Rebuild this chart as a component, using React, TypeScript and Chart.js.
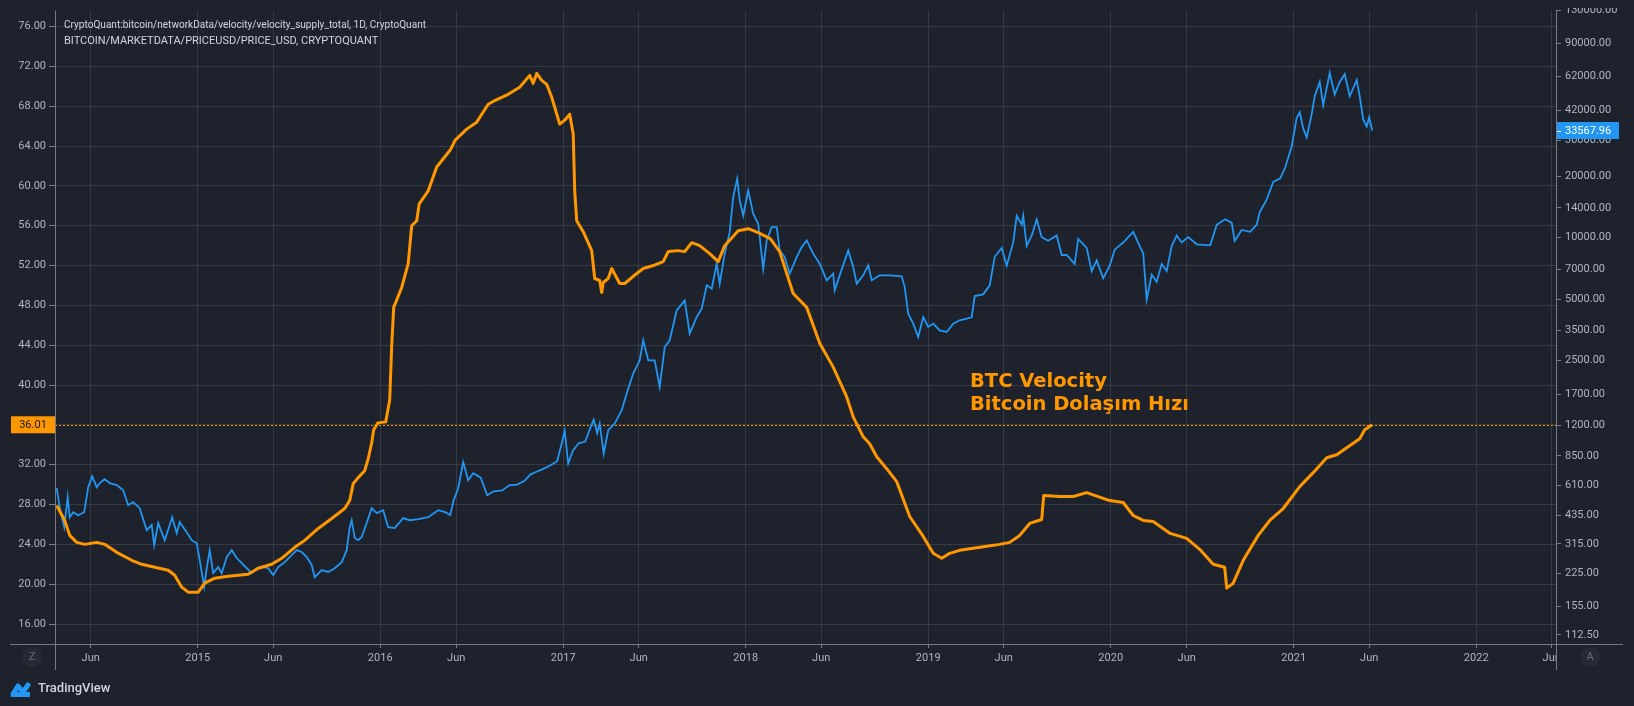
import React, { useEffect, useRef } from 'react';
import { Chart, registerables } from 'chart.js';

Chart.register(...registerables);

// ---------- DATA ----------
const velocityDates = [
  '2014-03-25','2014-04-10','2014-04-20','2014-05-04','2014-05-20','2014-06-13','2014-06-29','2014-07-23','2014-08-22','2014-09-11',
  '2014-10-07','2014-11-03','2014-11-16','2014-11-30','2014-12-13','2015-01-02','2015-01-15','2015-02-04','2015-03-03','2015-04-12',
  '2015-05-02','2015-05-29','2015-06-18','2015-07-14','2015-08-03','2015-08-30','2015-09-26','2015-10-22','2015-11-01','2015-11-08',
  '2015-11-18','2015-12-01','2015-12-08','2015-12-15','2015-12-19','2015-12-27','2016-01-12','2016-01-20','2016-01-24','2016-01-28',
  '2016-02-13','2016-02-26','2016-03-04','2016-03-14','2016-03-19','2016-04-06','2016-04-23','2016-05-20','2016-05-30','2016-06-22',
  '2016-07-12','2016-08-04','2016-08-18','2016-09-13','2016-10-06','2016-10-26','2016-11-02','2016-11-09','2016-11-19','2016-11-29',
  '2016-12-09','2016-12-25','2017-01-04','2017-01-14','2017-01-21','2017-01-24','2017-01-28','2017-02-10','2017-02-27','2017-03-05',
  '2017-03-15','2017-03-19','2017-03-22','2017-04-01','2017-04-08','2017-04-24','2017-05-04','2017-05-28','2017-06-10','2017-06-30',
  '2017-07-20','2017-07-30','2017-08-19','2017-09-01','2017-09-15','2017-10-01','2017-10-21','2017-11-07','2017-11-20','2017-12-17',
  '2018-01-06','2018-01-26','2018-02-19','2018-03-10','2018-03-24','2018-04-06','2018-05-03','2018-05-29','2018-06-25','2018-07-22',
  '2018-08-04','2018-08-24','2018-09-06','2018-09-20','2018-10-10','2018-10-30','2018-11-25','2018-12-22','2019-01-11','2019-01-28',
  '2019-02-13','2019-03-05','2019-04-01','2019-04-28','2019-05-24','2019-06-13','2019-07-03','2019-07-23','2019-08-16','2019-08-20',
  '2019-09-21','2019-10-18','2019-11-14','2019-12-30','2020-01-26','2020-02-15','2020-03-06','2020-03-26','2020-04-29','2020-06-01',
  '2020-06-27','2020-07-24','2020-08-16','2020-08-20','2020-09-02','2020-09-22','2020-10-22','2020-11-14','2020-12-11','2021-01-13',
  '2021-02-09','2021-03-08','2021-03-28','2021-04-17','2021-05-13','2021-05-23','2021-06-07'
];
const velocityValues = [
  27.9,26.4,24.9,24.2,24.0,24.2,24.0,23.2,22.4,22.0,
  21.7,21.4,20.9,19.7,19.2,19.2,20.1,20.6,20.8,21.0,
  21.6,22.0,22.6,23.7,24.4,25.6,26.6,27.6,28.4,30.1,
  30.7,31.4,32.6,34.2,35.5,36.2,36.3,38.5,44.0,47.8,
  49.8,52.2,56.0,56.5,58.2,59.5,61.9,63.6,64.6,65.7,
  66.4,68.2,68.6,69.2,69.9,71.1,70.3,71.3,70.6,70.2,
  68.9,66.2,66.6,67.2,65.2,59.5,56.5,55.4,53.5,50.7,
  50.5,49.3,50.3,50.7,51.7,50.2,50.2,51.2,51.7,52.0,
  52.4,53.4,53.5,53.4,54.3,54.0,53.2,52.4,54.0,55.5,
  55.7,55.3,54.7,53.4,51.2,49.2,47.8,44.2,41.8,38.8,
  36.8,34.8,34.1,32.8,31.6,30.3,26.8,24.8,23.1,22.6,
  23.1,23.4,23.6,23.8,24.0,24.2,24.9,26.1,26.5,28.9,
  28.8,28.8,29.2,28.4,28.2,26.9,26.4,26.3,25.1,24.6,
  23.5,22.0,21.7,19.6,20.1,22.4,24.9,26.4,27.6,29.8,
  31.2,32.7,33.0,33.7,34.6,35.5,36.01
];

const priceDates = [
  '2014-03-25','2014-03-31','2014-04-09','2014-04-16','2014-04-20','2014-04-27','2014-05-07','2014-05-19','2014-05-27','2014-06-04',
  '2014-06-13','2014-06-19','2014-06-29','2014-07-09','2014-07-23','2014-08-05','2014-08-15','2014-08-25','2014-09-07','2014-09-21',
  '2014-10-01','2014-10-06','2014-10-14','2014-10-27','2014-11-11','2014-11-20','2014-11-26','2014-12-10','2014-12-20','2014-12-30',
  '2015-01-05','2015-01-14','2015-01-19','2015-01-25','2015-02-01','2015-02-11','2015-02-18','2015-02-28','2015-03-10','2015-03-20',
  '2015-03-30','2015-04-09','2015-04-19','2015-04-29','2015-05-12','2015-05-22','2015-06-01','2015-06-11','2015-06-24','2015-07-08',
  '2015-07-18','2015-07-28','2015-08-07','2015-08-17','2015-08-23','2015-09-06','2015-09-19','2015-10-02','2015-10-16','2015-10-26',
  '2015-11-01','2015-11-05','2015-11-11','2015-11-18','2015-11-25','2015-12-05','2015-12-15','2015-12-25','2016-01-07','2016-01-17',
  '2016-01-30','2016-02-16','2016-02-29','2016-03-17','2016-04-06','2016-04-26','2016-05-10','2016-05-20','2016-05-27','2016-06-05',
  '2016-06-15','2016-06-25','2016-07-05','2016-07-20','2016-08-02','2016-08-15','2016-09-01','2016-09-15','2016-10-01','2016-10-15',
  '2016-10-28','2016-11-05','2016-11-20','2016-12-05','2016-12-20','2016-12-28','2017-01-04','2017-01-11','2017-01-20','2017-02-01',
  '2017-02-14','2017-02-25','2017-03-03','2017-03-10','2017-03-15','2017-03-23','2017-04-01','2017-04-14','2017-04-28','2017-05-08',
  '2017-05-21','2017-06-03','2017-06-10','2017-06-20','2017-07-03','2017-07-13','2017-07-23','2017-08-02','2017-08-16','2017-09-01',
  '2017-09-11','2017-09-25','2017-10-05','2017-10-15','2017-10-25','2017-11-04','2017-11-10','2017-11-20','2017-11-30','2017-12-07',
  '2017-12-15','2017-12-20','2017-12-27','2018-01-06','2018-01-16','2018-01-26','2018-02-05','2018-02-12','2018-02-22','2018-03-04',
  '2018-03-10','2018-03-20','2018-03-30','2018-04-13','2018-04-23','2018-05-03','2018-05-16','2018-05-29','2018-06-12','2018-06-25',
  '2018-06-28','2018-07-08','2018-07-25','2018-08-04','2018-08-11','2018-08-24','2018-09-03','2018-09-10','2018-09-26','2018-10-16',
  '2018-11-09','2018-11-15','2018-11-22','2018-12-02','2018-12-12','2018-12-22','2019-01-01','2019-01-11','2019-01-24','2019-02-07',
  '2019-02-20','2019-03-05','2019-03-29','2019-04-04','2019-04-21','2019-05-04','2019-05-14','2019-05-28','2019-06-07','2019-06-20',
  '2019-06-27','2019-07-07','2019-07-10','2019-07-17','2019-07-27','2019-08-06','2019-08-16','2019-08-29','2019-09-15','2019-09-25',
  '2019-10-05','2019-10-21','2019-10-28','2019-11-14','2019-11-24','2019-12-04','2019-12-17','2019-12-30','2020-01-09','2020-01-26',
  '2020-02-15','2020-02-28','2020-03-06','2020-03-13','2020-03-23','2020-04-02','2020-04-12','2020-04-22','2020-05-02','2020-05-12',
  '2020-05-22','2020-06-04','2020-06-21','2020-07-18','2020-07-31','2020-08-17','2020-08-30','2020-09-05','2020-09-19','2020-10-06',
  '2020-10-19','2020-10-25','2020-11-08','2020-11-21','2020-12-05','2020-12-15','2020-12-28','2021-01-07','2021-01-13','2021-01-20',
  '2021-01-27','2021-02-06','2021-02-12','2021-02-22','2021-03-01','2021-03-14','2021-03-24','2021-04-03','2021-04-13','2021-04-23',
  '2021-05-07','2021-05-13','2021-05-20','2021-05-27','2021-06-01','2021-06-07'
];
const priceValues = [
  590,476,380,533,425,450,435,450,597,676,
  597,625,653,625,611,577,487,504,471,367,
  389,310,398,328,425,355,402,359,328,317,
  262,193,239,293,226,242,226,271,293,268,
  253,239,226,239,242,239,221,242,256,277,
  293,287,271,248,216,234,229,239,256,293,
  380,411,336,328,340,398,471,445,460,380,
  376,421,411,416,425,460,450,435,516,590,
  792,646,699,665,545,570,575,610,615,640,
  690,705,730,760,800,960,1130,780,900,980,
  1000,1180,1280,1100,1225,873,1136,1225,1424,1719,
  2154,2503,3138,2503,2503,1852,2909,3138,4401,4928,
  3383,4082,4487,5837,5623,7455,5950,8349,10650,15810,
  19460,15230,12860,17050,13110,11710,7047,9701,11270,11270,
  8663,8035,6660,8035,8993,9701,8349,7455,6176,6660,
  5515,6535,8663,7177,5950,6535,7316,6176,6535,6535,
  6461,5725,4241,3788,3256,4082,3646,3788,3512,3446,
  3788,3932,4068,5173,5274,5837,8063,8913,7284,9484,
  12810,11580,12810,9095,10260,12290,10060,9656,10260,8226,
  8226,7430,9855,8913,6859,7741,6324,7284,8734,9473,
  10690,9095,8385,4968,6586,6079,7430,6859,9095,10260,
  9473,10060,9282,9170,11580,12310,11820,9656,10910,10690,
  11580,13340,15360,18790,19550,22090,28120,38800,41230,34390,
  31090,40410,49440,58100,44730,64250,50410,58100,63470,49440,
  59290,49440,38060,35130,39000,33567.96
];

const leftTicks = [16, 20, 24, 28, 32, 36, 40, 44, 48, 52, 56, 60, 64, 68, 72, 76];
const rightTicks = [112.5, 155, 225, 315, 435, 610, 850, 1200, 1700, 2500, 3500, 5000, 7000, 10000, 14000, 20000, 30000, 42000, 62000, 90000, 130000];
const timeTickYears = [2014, 2015, 2016, 2017, 2018, 2019, 2020, 2021, 2022];
const headerLines = [
  'CryptoQuant:bitcoin/networkData/velocity/velocity_supply_total, 1D, CryptoQuant',
  'BITCOIN/MARKETDATA/PRICEUSD/PRICE_USD, CRYPTOQUANT'
];
const annotationLines = ['BTC Velocity', 'Bitcoin Dolaşım Hızı'];

// ---------- STYLE ----------
const BG = '#1e222d';
const GRID = '#363a45';
const AXIS = '#787b86';
const TEXT = '#b2b5be';
const ORANGE = '#ff9800';
const BLUE = '#2196f3';
const FONT = 'Roboto, "Liberation Sans", sans-serif';

const toMs = (s: string) => {
  const [y, m, d] = s.split('-').map(Number);
  return Date.UTC(y, m - 1, d);
};

const X_MIN = Date.UTC(2014, 2, 21, 14);
const X_MAX = Date.UTC(2022, 5, 9, 14);

const timeTicks: { value: number; label: string }[] = [];
timeTickYears.forEach((yr) => {
  timeTicks.push({ value: Date.UTC(yr, 0, 1), label: String(yr) });
  timeTicks.push({ value: Date.UTC(yr, 5, 1), label: 'Jun' });
});
const visibleTimeTicks = timeTicks.filter((t) => t.value >= X_MIN && t.value <= X_MAX);

export default function App() {
  const ref = useRef<HTMLCanvasElement | null>(null);

  useEffect(() => {
    document.body.style.margin = '0';
    document.body.style.background = BG;
    const canvas = ref.current;
    if (!canvas) return;

    const velocityData = velocityDates.map((d, i) => ({ x: toMs(d), y: velocityValues[i] }));
    const priceData = priceDates.map((d, i) => ({ x: toMs(d), y: priceValues[i] }));
    const lastV = velocityValues[velocityValues.length - 1];
    const lastP = priceValues[priceValues.length - 1];

    const decor = {
      id: 'decor',
      beforeDraw(chart: any) {
        const c = chart.ctx;
        c.save();
        c.fillStyle = BG;
        c.fillRect(0, 0, chart.width, chart.height);
        c.restore();
      },
      beforeDatasetsDraw(chart: any) {
        const c = chart.ctx;
        const a = chart.chartArea;
        const yv = Math.round(chart.scales.y.getPixelForValue(lastV)) + 0.5;
        c.save();
        c.strokeStyle = ORANGE;
        c.lineWidth = 1;
        c.setLineDash([2, 2]);
        c.beginPath();
        c.moveTo(a.left, yv);
        c.lineTo(a.right, yv);
        c.stroke();
        c.restore();
      },
      afterDraw(chart: any) {
        const c = chart.ctx;
        const a = chart.chartArea;
        c.save();
        c.fillStyle = BG;
        c.fillRect(0, 0, chart.width, 8);
        c.fillRect(a.right + 1, a.bottom + 1, chart.width - a.right, chart.height - a.bottom);

        c.strokeStyle = AXIS;
        c.lineWidth = 1;
        c.beginPath();
        c.moveTo(10, a.bottom + 0.5);
        c.lineTo(1623, a.bottom + 0.5);
        c.moveTo(a.left + 0.5, a.top);
        c.lineTo(a.left + 0.5, 670);
        c.moveTo(a.right + 0.5, a.top);
        c.lineTo(a.right + 0.5, 670);
        c.stroke();

        const yv = chart.scales.y.getPixelForValue(lastV);
        c.fillStyle = ORANGE;
        c.fillRect(11, yv - 8.5, a.left - 11, 17);
        c.fillStyle = '#131722';
        c.font = `11px ${FONT}`;
        c.textAlign = 'center';
        c.textBaseline = 'middle';
        c.fillText(lastV.toFixed(2), 33, yv + 0.5);

        const yp = chart.scales.yR.getPixelForValue(lastP);
        c.fillStyle = BLUE;
        c.fillRect(a.right + 1, yp - 8.5, 62, 17);
        c.fillStyle = '#ffffff';
        c.fillRect(a.right + 1, Math.round(yp), 4, 1);
        c.textAlign = 'left';
        c.fillText(lastP.toFixed(2), a.right + 9, yp + 0.5);

        c.fillStyle = '#d1d4dc';
        c.font = `11px ${FONT}`;
        c.textAlign = 'left';
        c.textBaseline = 'middle';
        c.fillText(headerLines[0], 64, 25, 362);
        c.fillText(headerLines[1], 64, 41);

        c.fillStyle = ORANGE;
        c.font = `bold 19.5px "DejaVu Sans", sans-serif`;
        c.textBaseline = 'alphabetic';
        c.fillText(annotationLines[0], 970, 387);
        c.fillText(annotationLines[1], 970, 410);

        const btn = (x: number, y: number, t: string) => {
          c.fillStyle = '#262a35';
          c.beginPath();
          c.arc(x, y, 10, 0, Math.PI * 2);
          c.fill();
          c.fillStyle = '#6a6d78';
          c.font = `11px ${FONT}`;
          c.textAlign = 'center';
          c.textBaseline = 'middle';
          c.fillText(t, x, y + 0.5);
        };
        btn(32, 657, 'Z');
        btn(1590, 657, 'A');

        c.fillStyle = BLUE;
        c.strokeStyle = BLUE;
        c.lineJoin = 'round';
        c.lineCap = 'round';
        c.lineWidth = 5;
        c.beginPath();
        c.moveTo(13, 694);
        c.lineTo(18, 686);
        c.lineTo(23, 692);
        c.lineTo(28, 685);
        c.stroke();
        c.fillRect(11, 692, 19, 5);
        c.fillStyle = '#d1d4dc';
        c.font = `500 13px ${FONT}`;
        c.textAlign = 'left';
        c.textBaseline = 'middle';
        c.fillText('TradingView', 38, 689);
        c.restore();
      },
    };

    const chart = new Chart(canvas, {
      type: 'line',
      data: {
        datasets: [
          {
            label: 'Velocity',
            data: velocityData,
            yAxisID: 'y',
            borderColor: ORANGE,
            borderWidth: 3,
            pointRadius: 0,
            tension: 0,
            borderJoinStyle: 'round',
          },
          {
            label: 'Price USD',
            data: priceData,
            yAxisID: 'yR',
            borderColor: BLUE,
            borderWidth: 1.8,
            pointRadius: 0,
            tension: 0,
          },
        ],
      },
      options: {
        responsive: false,
        animation: false,
        devicePixelRatio: 1,
        parsing: false as any,
        layout: { padding: { top: 10, left: 0, right: 0, bottom: 0 } },
        plugins: { legend: { display: false }, tooltip: { enabled: false } },
        scales: {
          x: {
            type: 'linear',
            min: X_MIN,
            max: X_MAX,
            afterBuildTicks: (s: any) => {
              s.ticks = visibleTimeTicks.map((t) => ({ value: t.value }));
            },
            afterFit: (s: any) => {
              s.height = 62;
            },
            ticks: {
              autoSkip: false,
              maxRotation: 0,
              padding: 4,
              color: TEXT,
              font: { family: FONT, size: 11 },
              callback: (v: any) => {
                const t = visibleTimeTicks.find((q) => q.value === v);
                return t ? t.label : '';
              },
            },
            grid: { color: GRID, tickColor: AXIS, tickLength: 4, drawTicks: true },
            border: { display: false },
          },
          y: {
            type: 'linear',
            position: 'left',
            min: 13.993,
            max: 77.605,
            afterBuildTicks: (s: any) => {
              s.ticks = leftTicks.map((v) => ({ value: v }));
            },
            afterFit: (s: any) => {
              s.width = 55;
            },
            ticks: {
              padding: 3,
              color: TEXT,
              font: { family: FONT, size: 11 },
              callback: (v: any) => Number(v).toFixed(2),
            },
            grid: { color: GRID, tickColor: AXIS, tickLength: 6 },
            border: { display: false },
          },
          yR: {
            type: 'logarithmic',
            position: 'right',
            min: 101.5,
            max: 130100,
            afterBuildTicks: (s: any) => {
              s.ticks = rightTicks.map((v) => ({ value: v }));
            },
            afterFit: (s: any) => {
              s.width = 78;
            },
            ticks: {
              padding: 4,
              color: TEXT,
              font: { family: FONT, size: 11 },
              callback: (v: any) => Number(v).toFixed(2),
            },
            grid: { drawOnChartArea: false, tickColor: AXIS, tickLength: 5 },
            border: { display: false },
          },
        },
      },
      plugins: [decor],
    });

    return () => chart.destroy();
  }, []);

  return (
    <div style={{ width: 1634, height: 706, background: BG }}>
      <canvas ref={ref} width={1634} height={706} style={{ display: 'block', width: 1634, height: 706 }} />
    </div>
  );
}
